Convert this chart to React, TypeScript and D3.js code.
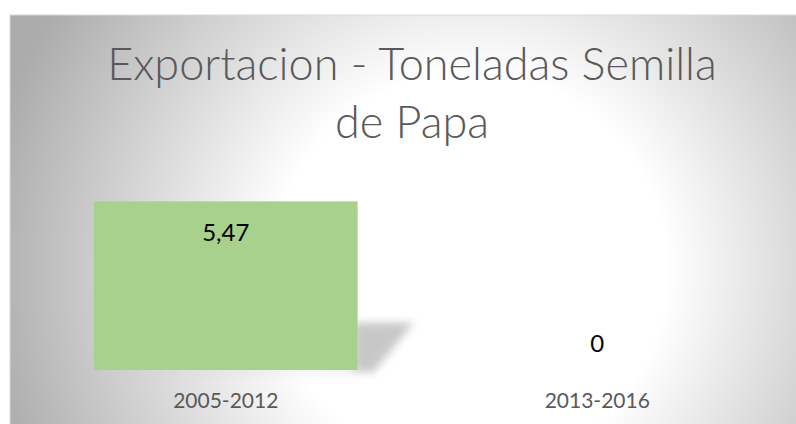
import React from "react";
import * as d3 from "d3";

const categories = ["2005-2012", "2013-2016"];
const values = [5.47, 0];
const titleLines = ["Exportacion - Toneladas Semilla", "de Papa"];

const width = 796;
const height = 424;
const plot = { left: 40, right: 783, top: 185, bottom: 370 };

const es = d3.formatLocale({ decimal: ",", thousands: ".", grouping: [3], currency: ["", "€"] });
const fmt = (v: number) => (v === 0 ? "0" : es.format(".2f")(v));

const App = () => {
  const x = d3
    .scaleBand<string>()
    .domain(categories)
    .range([plot.left, plot.right])
    .paddingInner(0.29)
    .paddingOuter(0.145);

  const y = d3.scaleLinear().domain([0, 6]).range([plot.bottom, plot.top]);

  const font = "Lato, 'Open Sans', sans-serif";

  return (
    <svg
      width={width}
      height={height}
      style={{ position: "absolute", left: 0, top: 0, display: "block" }}
    >
      <defs>
        <radialGradient id="bg" gradientUnits="userSpaceOnUse" cx={470} cy={270} r={490}>
          <stop offset="0" stopColor="#ffffff" />
          <stop offset="0.4" stopColor="#ffffff" />
          <stop offset="1" stopColor="#acacac" />
        </radialGradient>
        <filter id="blur" x="-50%" y="-50%" width="200%" height="200%">
          <feGaussianBlur stdDeviation="4.5" />
        </filter>
      </defs>
      <rect x={0} y={0} width={width} height={height} fill="#fff" />
      <rect x={10} y={15} width={width} height={height} fill="url(#bg)" stroke="#d9d9d9" />

      {titleLines.map((t, i) => (
        <text
          key={t}
          x={412}
          y={80 + i * 58}
          textAnchor="middle"
          fontFamily={font}
          fontWeight={300}
          fontSize={45}
          fill="#595959"
        >
          {t}
        </text>
      ))}

      {/* shadow + bars */}
      {values.map((v, i) => {
        if (v <= 0) return null;
        const x0 = x(categories[i])!;
        const x1 = x0 + x.bandwidth();
        const yb = y(0);
        const sh = (yb - y(v)) * 0.28;
        const pts = [
          [x1 - 4, yb - sh],
          [x1 + 56, yb - sh],
          [x1 + 16, yb + 2],
          [x0 + 4, yb + 3],
          [x1 - 4, yb],
        ];
        return (
          <polygon
            key={"s" + i}
            points={pts.map((p) => p.join(",")).join(" ")}
            fill="#909090"
            opacity={0.5}
            filter="url(#blur)"
          />
        );
      })}
      {values.map((v, i) => (
        <rect
          key={"b" + i}
          x={x(categories[i])}
          y={y(v)}
          width={x.bandwidth()}
          height={y(0) - y(v)}
          fill="#a9d18e"
        />
      ))}

      {values.map((v, i) => (
        <text
          key={"l" + i}
          x={x(categories[i])! + x.bandwidth() / 2}
          y={v > 0 ? y(v) + 40 : y(v) - 18}
          textAnchor="middle"
          fontFamily={font}
          fontSize={24}
          fill="#000"
        >
          {fmt(v)}
        </text>
      ))}

      {categories.map((c) => (
        <text
          key={c}
          x={x(c)! + x.bandwidth() / 2}
          y={408}
          textAnchor="middle"
          fontFamily={font}
          fontSize={21}
          fill="#595959"
        >
          {c}
        </text>
      ))}
    </svg>
  );
};

export default App;
